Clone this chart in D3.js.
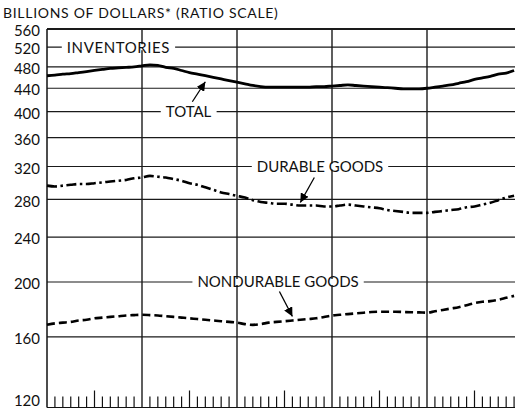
<!DOCTYPE html>
<html>
<head>
<meta charset="utf-8">
<script src="https://cdn.jsdelivr.net/npm/d3@7"></script>
<style>
  body { margin: 0; background: #fff; }
  svg { display: block; }
  text { font-family: Lato, "DejaVu Sans", sans-serif; fill: #111; }
</style>
</head>
<body>
<div id="chart"></div>
<script>
// Inventories, billions of dollars, monthly over five years (ratio scale)
var yTicks = [120, 160, 200, 240, 280, 320, 360, 400, 440, 480, 520, 560];

var total = [463, 464, 466, 467, 469, 471, 473, 475, 477, 478, 479, 480,
             482, 484, 483, 479, 477, 473, 469, 466, 463, 460, 457, 454,
             451, 448, 445, 443, 442, 442, 442, 442, 442, 442, 443, 443,
             444, 445, 446, 445, 444, 443, 442, 441, 440, 439, 439, 439,
             440, 442, 444, 446, 449, 452, 456, 459, 462, 466, 468, 473];

var durable = [296, 295, 296, 297, 298, 298, 299, 300, 301, 302, 303, 305,
               306, 308, 307, 306, 304, 302, 299, 297, 294, 291, 288, 286,
               284, 282, 279, 277, 276, 275, 275, 274, 273, 273, 273, 272,
               272, 273, 274, 273, 272, 271, 270, 268, 267, 266, 265, 265,
               265, 266, 267, 268, 269, 271, 272, 274, 276, 279, 282, 284];

var nondurable = [168, 169, 169.5, 170, 171, 171.5, 172.5, 173, 173.5, 174, 174.5, 174.8,
                  175, 174.8, 174.5, 174, 173.5, 173, 172.5, 172, 171.5, 171, 170.5, 170,
                  169.5, 168.5, 168, 168.5, 169.5, 170, 170.5, 171, 171.5, 172, 172.5, 173.5,
                  174.5, 175, 175.5, 176, 176.5, 177, 177.2, 177.2, 177.2, 177, 176.8, 176.7,
                  176.5, 177.5, 178.5, 179.5, 180.5, 182, 183.5, 184.5, 185, 186, 187.5, 189];

var monthsPerYear = 12;
var years = 5;

var width = 515, height = 409;
var svg = d3.select("#chart").append("svg")
    .attr("width", width)
    .attr("height", height);

var x = d3.scaleLinear().domain([0, years * monthsPerYear]).range([47, 522]);
var y = d3.scaleLog().domain([120, 560]).range([407.5, 29]);

// horizontal grid lines
svg.append("g").selectAll("line")
    .data(yTicks.slice(1))
    .enter().append("line")
    .attr("x1", x(0)).attr("x2", width)
    .attr("y1", function (d) { return y(d); })
    .attr("y2", function (d) { return y(d); })
    .attr("stroke", "#1a1a1a")
    .attr("stroke-width", function (d) { return d === 560 ? 1.8 : 1.2; });

// year lines
svg.append("g").selectAll("line")
    .data(d3.range(1, years))
    .enter().append("line")
    .attr("x1", function (d) { return x(d * monthsPerYear); })
    .attr("x2", function (d) { return x(d * monthsPerYear); })
    .attr("y1", y(560)).attr("y2", y(120))
    .attr("stroke", "#1a1a1a")
    .attr("stroke-width", 1.4);

// left and bottom axis lines
svg.append("line")
    .attr("x1", x(0)).attr("x2", x(0))
    .attr("y1", y(560)).attr("y2", y(120))
    .attr("stroke", "#111").attr("stroke-width", 1.5);
svg.append("line")
    .attr("x1", x(0)).attr("x2", width)
    .attr("y1", y(120)).attr("y2", y(120))
    .attr("stroke", "#111").attr("stroke-width", 1.2);

// month ticks along the bottom, longer at mid-year
var monthTicks = d3.range(1, years * monthsPerYear + 1).filter(function (m) { return m % monthsPerYear !== 0; });
svg.append("g").selectAll("line")
    .data(monthTicks)
    .enter().append("line")
    .attr("x1", function (d) { return x(d); })
    .attr("x2", function (d) { return x(d); })
    .attr("y1", y(120))
    .attr("y2", function (d) { return y(120) - (d % 6 === 0 ? 17 : 11); })
    .attr("stroke", "#111")
    .attr("stroke-width", 1.2);

// y axis labels (the lowest one kept inside the picture)
svg.append("g").selectAll("text")
    .data(yTicks)
    .enter().append("text")
    .attr("x", 40)
    .attr("y", function (d) { return Math.min(y(d) + 1.5, height - 9); })
    .attr("dy", "0.38em")
    .attr("text-anchor", "end")
    .attr("font-size", 15)
    .text(function (d) { return d; });

// title
svg.append("text")
    .attr("x", 3).attr("y", 18)
    .attr("font-size", 14)
    .attr("letter-spacing", 0.7)
    .text("BILLIONS OF DOLLARS* (RATIO SCALE)");

// series lines
var line = d3.line()
    .x(function (d, i) { return x(i); })
    .y(function (d) { return y(d); })
    .curve(d3.curveMonotoneX);

svg.append("path").datum(total)
    .attr("d", line).attr("fill", "none")
    .attr("stroke", "#000").attr("stroke-width", 2.8);
svg.append("path").datum(durable)
    .attr("d", line).attr("fill", "none")
    .attr("stroke", "#000").attr("stroke-width", 2.6)
    .attr("stroke-dasharray", "10,3.5,2.5,3.5");
svg.append("path").datum(nondurable)
    .attr("d", line).attr("fill", "none")
    .attr("stroke", "#000").attr("stroke-width", 2.6)
    .attr("stroke-dasharray", "8,4");

// labels sitting on grid lines
var labels = [
  {text: "INVENTORIES", value: 520, month: 2.5, spacing: 0.6},
  {text: "TOTAL", value: 400, month: 15, spacing: 0},
  {text: "DURABLE GOODS", value: 320, month: 26.5, spacing: 0},
  {text: "NONDURABLE GOODS", value: 200, month: 19, spacing: 0}
];
labels.forEach(function (l) {
  var g = svg.append("g");
  var t = g.append("text")
      .attr("x", x(l.month))
      .attr("y", y(l.value))
      .attr("dy", "0.36em")
      .attr("font-size", 15)
      .attr("letter-spacing", l.spacing)
      .text(l.text);
  var bb = t.node().getBBox();
  g.insert("rect", "text")
      .attr("x", bb.x - 5).attr("y", y(l.value) - 3)
      .attr("width", bb.width + 10).attr("height", 6)
      .attr("fill", "#fff");
});

// arrows from labels to lines
svg.append("defs").append("marker")
    .attr("id", "head")
    .attr("viewBox", "0 0 10 10")
    .attr("refX", 10).attr("refY", 5)
    .attr("markerWidth", 7).attr("markerHeight", 7)
    .attr("orient", "auto")
    .append("path").attr("d", "M0,0L10,5L0,10z").attr("fill", "#000");

var arrows = [
  {series: total, month: 20, gap: 6, dx: -13, dy: 20},
  {series: durable, month: 32, gap: -3, dx: 14, dy: -25},
  {series: nondurable, month: 31, gap: -4, dx: -13, dy: -25}
];
arrows.forEach(function (a) {
  var ex = x(a.month), ey = y(a.series[a.month]) + a.gap;
  svg.append("line")
      .attr("x1", ex + a.dx).attr("y1", ey + a.dy)
      .attr("x2", ex).attr("y2", ey)
      .attr("stroke", "#000").attr("stroke-width", 1.3)
      .attr("marker-end", "url(#head)");
});
</script>
</body>
</html>
